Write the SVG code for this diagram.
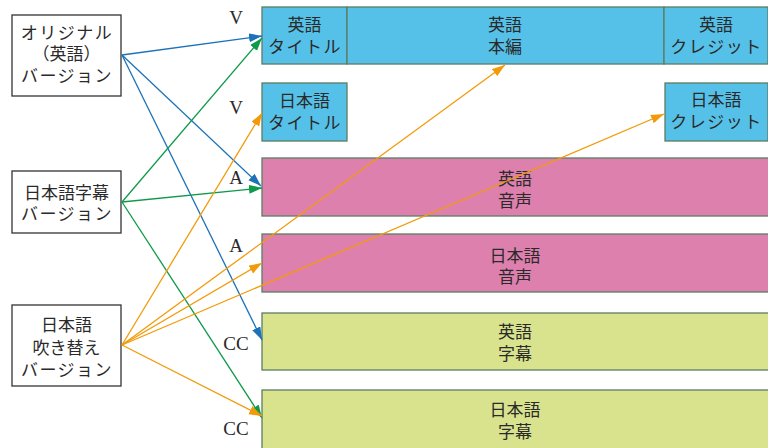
<svg xmlns="http://www.w3.org/2000/svg" width="768" height="448" viewBox="0 0 768 448">
<style>
text{font-family:"Liberation Serif","Noto Sans CJK JP",serif;font-size:17px;fill:#2a2a2a;text-anchor:middle;dominant-baseline:central}
.k{letter-spacing:1.5px}
.lbl{font-size:19px}
.src{fill:#fff;stroke:#333;stroke-width:1.3}
.v{fill:#56c1e8;stroke:#5b7d63;stroke-width:1.3}
.a{fill:#dd80ae;stroke:#5b7d63;stroke-width:1.3}
.c{fill:#d9e38e;stroke:#5b7d63;stroke-width:1.3}
.eb{stroke:#1b72b9;stroke-width:1.3;fill:none;marker-end:url(#mb)}
.eg{stroke:#0f9a4a;stroke-width:1.3;fill:none;marker-end:url(#mg)}
.eo{stroke:#f39a0a;stroke-width:1.3;fill:none;marker-end:url(#mo)}
</style>
<defs>
<marker id="mb" markerUnits="userSpaceOnUse" markerWidth="14" markerHeight="10" refX="13" refY="4.5" orient="auto"><path d="M0,0 L13,4.5 L0,9 Z" fill="#1b72b9"/></marker>
<marker id="mg" markerUnits="userSpaceOnUse" markerWidth="14" markerHeight="10" refX="13" refY="4.5" orient="auto"><path d="M0,0 L13,4.5 L0,9 Z" fill="#0f9a4a"/></marker>
<marker id="mo" markerUnits="userSpaceOnUse" markerWidth="14" markerHeight="10" refX="13" refY="4.5" orient="auto"><path d="M0,0 L13,4.5 L0,9 Z" fill="#f39a0a"/></marker>
</defs>
<rect width="768" height="448" fill="#fff"/>

<g id="src-original">
<rect class="src" x="12" y="15" width="109" height="81"/>
<text class="k" x="67" y="33">オリジナル</text>
<text x="66.5" y="54">（英語）</text>
<text class="k" x="67" y="76">バージョン</text>
</g>
<g id="src-subtitle">
<rect class="src" x="12" y="171" width="109" height="62"/>
<text x="66.5" y="193">日本語字幕</text>
<text class="k" x="67" y="214">バージョン</text>
</g>
<g id="src-dub">
<rect class="src" x="12" y="305" width="109" height="81"/>
<text x="66.5" y="325">日本語</text>
<text x="66.5" y="348">吹き替え</text>
<text class="k" x="67" y="370">バージョン</text>
</g>

<g id="labels">
<text class="lbl" x="236" y="17">V</text>
<text class="lbl" x="236" y="107">V</text>
<text class="lbl" x="236" y="177">A</text>
<text class="lbl" x="236" y="245">A</text>
<text class="lbl" x="236" y="343">CC</text>
<text class="lbl" x="236" y="428">CC</text>
</g>

<g id="en-title">
<rect class="v" x="262" y="7" width="85" height="57"/>
<text x="304.5" y="25">英語</text>
<text class="k" x="305" y="47">タイトル</text>
</g>
<g id="en-main">
<rect class="v" x="347" y="7" width="317" height="57"/>
<text x="505" y="25">英語</text>
<text x="505" y="47">本編</text>
</g>
<g id="en-credit">
<rect class="v" x="664" y="7" width="104" height="57"/>
<text x="716" y="25">英語</text>
<text class="k" x="716.5" y="47">クレジット</text>
</g>
<g id="ja-title">
<rect class="v" x="262" y="83" width="85" height="58"/>
<text x="304.5" y="101">日本語</text>
<text class="k" x="305" y="123">タイトル</text>
</g>
<g id="ja-credit">
<rect class="v" x="665" y="83" width="103" height="58"/>
<text x="716" y="100">日本語</text>
<text class="k" x="716.5" y="122">クレジット</text>
</g>
<g id="en-audio">
<rect class="a" x="262" y="158" width="507" height="58"/>
<text x="515" y="179">英語</text>
<text x="515" y="201">音声</text>
</g>
<g id="ja-audio">
<rect class="a" x="262" y="234" width="507" height="58"/>
<text x="515" y="256">日本語</text>
<text x="515" y="277">音声</text>
</g>
<g id="en-sub">
<rect class="c" x="262" y="313" width="507" height="57"/>
<text x="515" y="332">英語</text>
<text x="515" y="354">字幕</text>
</g>
<g id="ja-sub">
<rect class="c" x="262" y="390" width="507" height="60"/>
<text x="515" y="410">日本語</text>
<text x="515" y="432">字幕</text>
</g>

<g id="connectors">
<line class="eb" x1="122" y1="55" x2="262" y2="36"/>
<line class="eb" x1="122" y1="55" x2="261" y2="186"/>
<line class="eb" x1="122" y1="55" x2="262" y2="340"/>
<line class="eg" x1="122" y1="202" x2="262" y2="38"/>
<line class="eg" x1="122" y1="202" x2="262" y2="188"/>
<line class="eg" x1="122" y1="202" x2="262" y2="418"/>
<line class="eo" x1="122" y1="345" x2="262" y2="113"/>
<line class="eo" x1="122" y1="345" x2="505" y2="65"/>
<line class="eo" x1="122" y1="345" x2="664" y2="114"/>
<line class="eo" x1="122" y1="345" x2="262" y2="263"/>
<line class="eo" x1="122" y1="345" x2="262" y2="416"/>
</g>
</svg>
